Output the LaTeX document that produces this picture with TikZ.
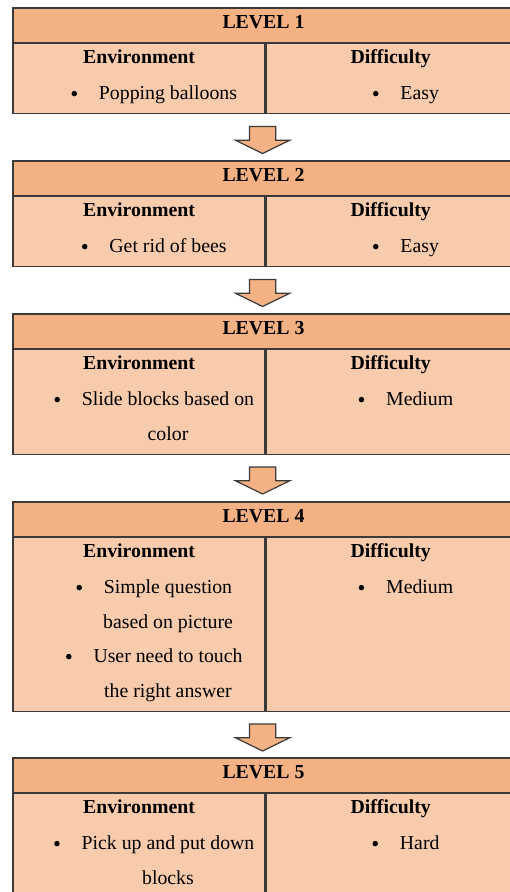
\documentclass[tikz,border=0pt]{standalone}
\usepackage{fontspec}
\setmainfont{Liberation Serif}
\usetikzlibrary{positioning,shapes.arrows}

\definecolor{headfill}{HTML}{F4B183}
\definecolor{cellfill}{HTML}{F8CBAD}
\definecolor{rulecol}{HTML}{3A3A3A}

\tikzset{
    headbox/.style={draw=rulecol, line width=1.2pt, fill=headfill, minimum width=501pt, minimum height=34.5pt, text depth=7pt, font=\bfseries\fontsize{19.8}{24}\selectfont},
    cellbox/.style={draw=rulecol, line width=1.2pt, fill=cellfill, anchor=north west, inner sep=0pt},
    colhead/.style={anchor=base, inner sep=0pt, font=\bfseries\fontsize{19.8}{24}\selectfont},
    item/.style={anchor=base, inner sep=0pt, font=\fontsize{19.8}{24}\selectfont},
    dot/.style={circle, fill=black, inner sep=0pt, minimum size=5.5pt},
    downarrow/.style={single arrow, draw=rulecol, line width=1.2pt, fill=headfill, rotate=-90, minimum height=27pt, inner xsep=0pt, inner ysep=12.5pt, text height=0pt, text depth=0pt, single arrow head extend=14pt, single arrow tip angle=128}
}

\begin{document}
\begin{tikzpicture}[x=1pt,y=1pt]

        \useasboundingbox (0,0) rectangle (510,-892);
        \clip (0,0) rectangle (510,-892);

        % Frames of the five levels (header band, then two cells)
        \foreach \i/\ytop/\n in {1/8/1, 2/161/1, 3/314/2, 4/502/4, 5/758/2} {
            \pgfmathsetmacro{\rowh}{70+34.5*(\n-1)}
            \node[headbox] (H\i) at (263.5,-\ytop-17.25) {LEVEL \i};
            \node[cellbox, minimum width=252pt, minimum height=\rowh pt] (E\i) at (H\i.south west) {};
            \node[cellbox, minimum width=249pt, minimum height=\rowh pt] (D\i) at (E\i.north east) {};
            \node[colhead] (EH\i) at ([yshift=-20.5pt]E\i.north) {Environment};
            \node[colhead] (DH\i) at ([yshift=-20.5pt]D\i.north) {Difficulty};
        }

        % Block arrows between the levels
        \foreach \i in {1,...,4} {
            \node[downarrow] (A\i) at ([xshift=-3pt,yshift=-22.5pt]E\i.south east) {};
        }

        % Level 1
        \node[item] (E1a) at ([xshift=29pt,yshift=-56.5pt]E1.north) {Popping balloons};
        \node[item] (D1a) at ([xshift=29pt,yshift=-56.5pt]D1.north) {Easy};

        % Level 2
        \node[item] (E2a) at ([xshift=29pt,yshift=-56.5pt]E2.north) {Get rid of bees};
        \node[item] (D2a) at ([xshift=29pt,yshift=-56.5pt]D2.north) {Easy};

        % Level 3
        \node[item] (E3a) at ([xshift=29pt,yshift=-56.5pt]E3.north) {Slide blocks based on};
        \node[item] (E3b) at ([yshift=-34.5pt]E3a.base) {color};
        \node[item] (D3a) at ([xshift=29pt,yshift=-56.5pt]D3.north) {Medium};

        % Level 4
        \node[item] (E4a) at ([xshift=29pt,yshift=-56.5pt]E4.north) {Simple question};
        \node[item] (E4b) at ([yshift=-34.5pt]E4a.base) {based on picture};
        \node[item] (E4c) at ([yshift=-34.5pt]E4b.base) {User need to touch};
        \node[item] (E4d) at ([yshift=-34.5pt]E4c.base) {the right answer};
        \node[item] (D4a) at ([xshift=29pt,yshift=-56.5pt]D4.north) {Medium};

        % Level 5
        \node[item] (E5a) at ([xshift=29pt,yshift=-56.5pt]E5.north) {Pick up and put down};
        \node[item] (E5b) at ([yshift=-34.5pt]E5a.base) {blocks};
        \node[item] (D5a) at ([xshift=29pt,yshift=-56.5pt]D5.north) {Hard};

        % Bullets in front of each list entry
        \foreach \b in {E1a,D1a,E2a,D2a,E3a,D3a,E4a,E4c,D4a,E5a,D5a} {
            \node[dot] (B\b) at ([xshift=-24.5pt,yshift=6pt]\b.base west) {};
        }

\end{tikzpicture}
\end{document}
